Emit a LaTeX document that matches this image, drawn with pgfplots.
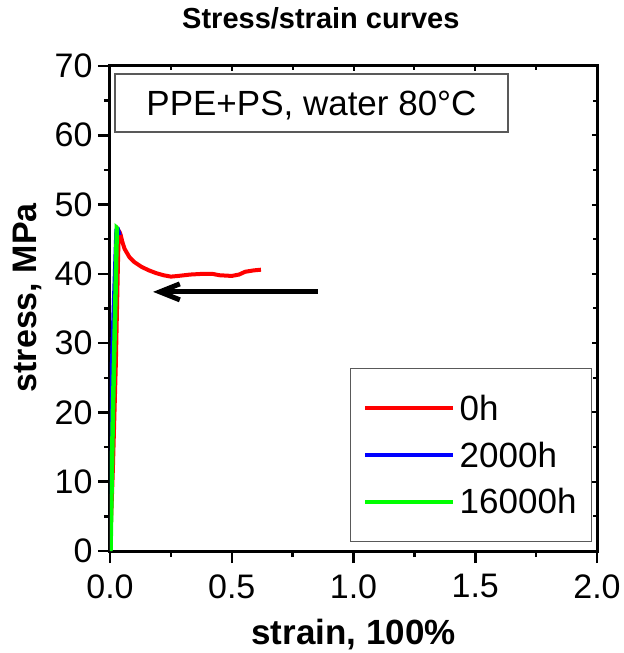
\documentclass[border=0pt]{standalone}
\usepackage{pgfplots}
\pgfplotsset{compat=1.18}
\usepackage{fontspec}
\setmainfont{Liberation Sans}
\usetikzlibrary{arrows.meta}

\begin{document}
\begin{tikzpicture}
% mirror ticks on top and right, pointing inwards
\begin{axis}[
  scale only axis, width=487pt, height=485pt,
  xmin=0, xmax=2, ymin=0, ymax=70,
  xtick={0,0.5,...,2}, ytick={0,10,...,70},
  minor x tick num=1, minor y tick num=1,
  tick align=inside, xtick pos=right, ytick pos=right,
  major tick length=5pt, minor tick length=4pt,
  every tick/.style={black, line width=2pt},
  axis line style={draw=none},
  xticklabels={}, yticklabels={},
]
\end{axis}
\begin{axis}[
  scale only axis, width=487pt, height=485pt,
  xmin=0, xmax=2, ymin=0, ymax=70,
  xtick={0,0.5,...,2}, ytick={0,10,...,70},
  minor x tick num=1, minor y tick num=1,
  tick align=outside, tick pos=left,
  major tick length=12pt, minor tick length=6pt,
  every tick/.style={black, line width=2.5pt},
  axis line style={line width=3pt},
  /pgf/number format/assume math mode=true,
  x tick label style={/pgf/number format/.cd, fixed, fixed zerofill, precision=1, /tikz/.cd, yshift=-8pt},
  y tick label style={xshift=-2pt},
  ticklabel style={font=\fontsize{34}{40}\selectfont},
  title={Stress/strain curves},
  title style={font=\bfseries\fontsize{29}{35}\selectfont, at={(axis description cs:0.433,1)}, anchor=base, yshift=31pt},
  xlabel={strain, 100\%},
  xlabel style={font=\bfseries\fontsize{35}{42}\selectfont, at={(axis description cs:0.5,0)}, anchor=base, yshift=-93pt},
  ylabel={stress, MPa},
  ylabel style={font=\bfseries\fontsize{34}{40}\selectfont, at={(axis description cs:-0.15,0.522)}, anchor=base},
  legend style={at={(axis description cs:0.99,0.0186)}, anchor=south east,
    draw=gray!70!black, line width=1.2pt, fill=white,
    font=\fontsize{35}{42}\selectfont,
    inner xsep=13pt, inner ysep=24pt, row sep=16pt,
    /tikz/every odd column/.append style={column sep=2pt}},
  legend cell align=left,
  legend image code/.code={\draw[#1] (0pt,0pt) -- (88pt,0pt);},
]
\addplot[red, line width=4pt] coordinates {
  (0.0,0) (0.012,12) (0.024,27) (0.033,42) (0.036,46.2) (0.040,46.0) (0.044,45.6)
  (0.050,44.7) (0.060,43.6) (0.080,42.4) (0.100,41.7) (0.130,41.0)
  (0.160,40.5) (0.190,40.1) (0.220,39.8) (0.250,39.6) (0.280,39.7)
  (0.330,39.9) (0.380,40.0) (0.420,40.0) (0.450,39.8) (0.500,39.7)
  (0.530,39.9) (0.555,40.3) (0.590,40.5) (0.620,40.6)};
\addlegendentry{0h}
\addplot[blue, line width=4pt] coordinates {
  (0.0,0) (0.002,20) (0.014,34) (0.026,46.3) (0.033,46.4) (0.040,45.6)};
\addlegendentry{2000h}
\addplot[green, line width=4.5pt] coordinates {
  (0.002,0) (0.012,20) (0.022,36) (0.028,46.6) (0.031,46.5)};
\addlegendentry{16000h}
\draw[line width=5pt, -{Straight Barb[length=20pt,width=16pt]}] (axis cs:0.854,37.4) -- (axis cs:0.177,37.4);
\node[draw=gray!70!black, line width=1.2pt, minimum width=393pt, minimum height=58pt, inner sep=0pt,
  text depth=0pt, font=\fontsize{35}{42}\selectfont] at (axis cs:0.8275,64.65) {PPE+PS, water 80°C};
\end{axis}
\useasboundingbox (-110pt,-102pt) rectangle (512pt,551pt);
\end{tikzpicture}
\end{document}
